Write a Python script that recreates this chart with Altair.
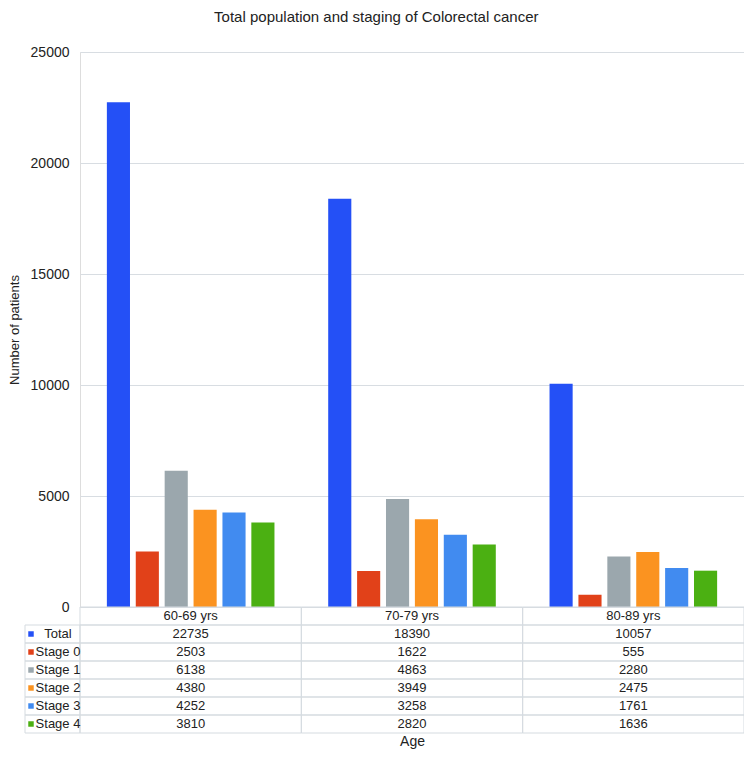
import altair as alt
import pandas as pd

ages = ["60-69 yrs", "70-79 yrs", "80-89 yrs"]
series = ["Total", "Stage 0", "Stage 1", "Stage 2", "Stage 3", "Stage 4"]
total = [22735, 18390, 10057]
stage0 = [2503, 1622, 555]
stage1 = [6138, 4863, 2280]
stage2 = [4380, 3949, 2475]
stage3 = [4252, 3258, 1761]
stage4 = [3810, 2820, 1636]
colors = ["#2450f6", "#e14119", "#9ba7ad", "#fb9320", "#418bf0", "#4bb012"]
y_ticks = [0, 5000, 10000, 15000, 20000, 25000]

values = [total, stage0, stage1, stage2, stage3, stage4]
rows = []
for s, vals in zip(series, values):
    for a, v in zip(ages, vals):
        rows.append({"Age": a, "Series": s, "Value": v, "Row": s, "Label": str(v)})
df = pd.DataFrame(rows)

hdr = pd.DataFrame({"Age": ages, "Row": ["header"] * 3, "Label": ages})
cells = pd.DataFrame([{"Age": a, "Row": r} for a in ages for r in ["header"] + series])
leg = pd.DataFrame({"Series": series, "Row": series})

FONT = "Liberation Sans"
row_domain = ["header"] + series
W, H = 664, 555
row_scale = alt.Scale(domain=row_domain, range=[H, H + 126], paddingInner=0, paddingOuter=0)
x_scale = alt.Scale(domain=ages, paddingInner=0, paddingOuter=0)
color_scale = alt.Scale(domain=series, range=colors)

bars = alt.Chart(df).mark_bar().encode(
    x=alt.X("Age:N", scale=x_scale,
            axis=alt.Axis(labels=False, ticks=False, domain=False, title="Age",
                          titleFont=FONT, titleFontSize=14, titleFontWeight="normal",
                          titleColor="#222", titleY=141, titleBaseline="bottom")),
    xOffset=alt.XOffset("Series:N", sort=series,
                        scale=alt.Scale(domain=series, paddingInner=0.2, paddingOuter=0.93)),
    y=alt.Y("Value:Q", scale=alt.Scale(domain=[0, 25000]),
            axis=alt.Axis(values=y_ticks, format="d", title="Number of patients", domain=False, ticks=False,
                          labelFont=FONT, labelFontSize=14, labelColor="#222", labelPadding=11,
                          titleFont=FONT, titleFontSize=13, titleFontWeight="normal",
                          titleColor="#222", titlePadding=9,
                          gridColor="#d8dde2", gridWidth=1)),
    color=alt.Color("Series:N", scale=color_scale, legend=None),
)

grid_cells = alt.Chart(cells).mark_rect(fill="white", fillOpacity=0, stroke="#d5dbe0", strokeWidth=1).encode(
    x=alt.X("Age:N", scale=x_scale),
    y=alt.Y("Row:N", scale=row_scale, axis=None),
)

label_cells = alt.Chart(leg).mark_rect(fill="white", fillOpacity=0, stroke="#d5dbe0", strokeWidth=1).encode(
    x=alt.value(-55), x2=alt.value(0),
    y=alt.Y("Row:N", scale=row_scale, axis=None),
)

cell_text = alt.Chart(df).mark_text(font=FONT, fontSize=13, color="#222").encode(
    x=alt.X("Age:N", scale=x_scale),
    y=alt.Y("Row:N", scale=row_scale, axis=None),
    text="Label:N",
)

hdr_text = alt.Chart(hdr).mark_text(font=FONT, fontSize=13, color="#222").encode(
    x=alt.X("Age:N", scale=x_scale),
    y=alt.Y("Row:N", scale=row_scale, axis=None),
    text="Label:N",
)

leg_squares = alt.Chart(leg).mark_point(shape="square", filled=True, opacity=1, size=30).encode(
    x=alt.value(-49),
    y=alt.Y("Row:N", scale=row_scale, axis=None),
    color=alt.Color("Series:N", scale=color_scale, legend=None),
)

leg_text = alt.Chart(leg).mark_text(font=FONT, fontSize=13, color="#222", align="center").encode(
    x=alt.value(-22),
    y=alt.Y("Row:N", scale=row_scale, axis=None),
    text="Series:N",
)

chart = alt.layer(
    bars, grid_cells, label_cells, cell_text, hdr_text, leg_squares, leg_text
).resolve_scale(y="independent").properties(
    width=W, height=H,
    title=alt.Title("Total population and staging of Colorectal cancer", font=FONT, fontSize=15,
                    fontWeight="normal", color="#222", anchor="middle", frame="bounds", offset=20),
    autosize=alt.AutoSizeParams(type="none"),
    padding={"left": 72, "top": 44, "right": 0, "bottom": 143},
).configure_view(stroke=None).configure(background="white")

chart.save("out.html", embed_options={"renderer": "svg", "actions": False})
